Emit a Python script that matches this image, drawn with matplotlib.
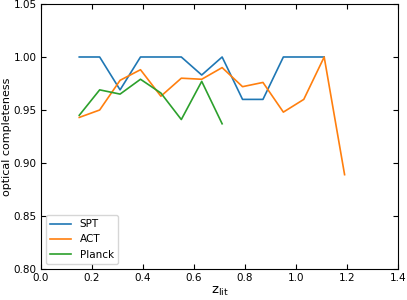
import matplotlib
matplotlib.use("Agg")
import matplotlib.pyplot as plt

z_spt = [0.15, 0.23, 0.31, 0.39, 0.47, 0.55, 0.63, 0.71, 0.79, 0.87, 0.95, 1.03, 1.11]
c_spt = [1.00, 1.00, 0.969, 1.00, 1.00, 1.00, 0.983, 1.00, 0.96, 0.96, 1.00, 1.00, 1.00]
z_act = [0.15, 0.23, 0.31, 0.39, 0.47, 0.55, 0.63, 0.71, 0.79, 0.87, 0.95, 1.03, 1.11, 1.19]
c_act = [0.943, 0.950, 0.978, 0.988, 0.963, 0.980, 0.979, 0.990, 0.972, 0.976, 0.948, 0.960, 1.00, 0.889]
z_planck = [0.15, 0.23, 0.31, 0.39, 0.47, 0.55, 0.63, 0.71]
c_planck = [0.945, 0.969, 0.965, 0.979, 0.966, 0.941, 0.977, 0.937]

fig = plt.figure(figsize=(4.07, 3.00), dpi=100)
ax = fig.add_axes([0.1007, 0.1033, 0.8776, 0.8834])
ax.plot(z_spt, c_spt, color="#1f77b4", lw=1.2, label="SPT")
ax.plot(z_act, c_act, color="#ff7f0e", lw=1.2, label="ACT")
ax.plot(z_planck, c_planck, color="#2ca02c", lw=1.2, label="Planck")
ax.set_xlim(0, 1.4)
ax.set_ylim(0.80, 1.05)
ax.set_xticks([0.0, 0.2, 0.4, 0.6, 0.8, 1.0, 1.2, 1.4])
ax.set_yticks([0.80, 0.85, 0.90, 0.95, 1.00, 1.05])
ax.tick_params(direction="in", top=True, right=True, labelsize=7.5, pad=3)
ax.set_xlabel(r"$\mathrm{z_{lit}}$", fontsize=9.5, labelpad=1)
ax.set_ylabel("optical completeness", fontsize=8, labelpad=1)
ax.legend(loc="lower left", fontsize=7.5)
fig.savefig("out.png", dpi=100)
